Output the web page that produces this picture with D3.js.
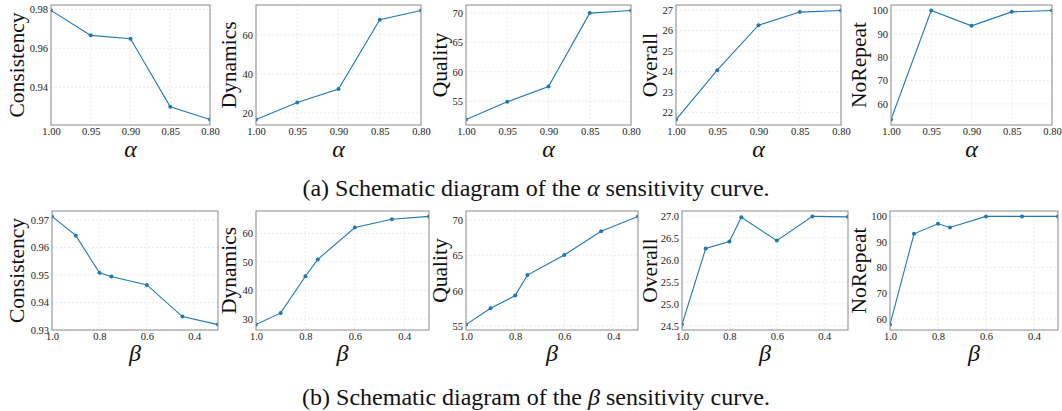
<!DOCTYPE html>
<html>
<head>
<meta charset="utf-8">
<script src="https://cdn.jsdelivr.net/npm/d3@7"></script>
<style>
  body { margin: 0; background: #fff; }
  svg { display: block; }
</style>
</head>
<body>
<svg id="chart" width="1062" height="411"></svg>
<script>
// valeurs
const alphaX = [1.00, 0.95, 0.90, 0.85, 0.80];
const betaX = [1.0, 0.9, 0.8, 0.75, 0.6, 0.45, 0.3];
const metrics = ["Consistency", "Dynamics", "Quality", "Overall", "NoRepeat"];

const alphaConsistency = [0.9795, 0.9667, 0.9650, 0.9300, 0.9234];
const alphaDynamics = [16.6, 25.3, 32.2, 67.7, 72.5];
const alphaQuality = [51.9, 54.9, 57.5, 69.95, 70.4];
const alphaOverall = [21.66, 24.07, 26.26, 26.9, 26.98];
const alphaNoRepeat = [53.3, 100, 93.4, 99.4, 100];

const betaConsistency = [0.9713, 0.9644, 0.9508, 0.9495, 0.9464, 0.9349, 0.932];
const betaDynamics = [28.0, 32.1, 45.0, 50.9, 62.1, 65.0, 66.0];
const betaQuality = [55.2, 57.5, 59.3, 62.2, 65.05, 68.4, 70.5];
const betaOverall = [24.53, 26.26, 26.42, 26.97, 26.44, 26.99, 26.98];
const betaNoRepeat = [57.7, 93.2, 97.1, 95.7, 100, 100, 100];

const alphaXTicks = [1.00, 0.95, 0.90, 0.85, 0.80];
const betaXTicks = [1.0, 0.8, 0.6, 0.4];

const alphaYTicks = [
  [0.94, 0.96, 0.98],
  [20, 40, 60],
  [55, 60, 65, 70],
  [22, 23, 24, 25, 26, 27],
  [60, 70, 80, 90, 100]
];
const betaYTicks = [
  [0.93, 0.94, 0.95, 0.96, 0.97],
  [30, 40, 50, 60],
  [55, 60, 65, 70],
  [24.5, 25.0, 25.5, 26.0, 26.5, 27.0],
  [60, 70, 80, 90, 100]
];
const alphaYFormat = [".2f", "d", "d", "d", "d"];
const betaYFormat = [".2f", "d", "d", ".1f", "d"];

const captionA = "(a) Schematic diagram of the ";
const captionB = "(b) Schematic diagram of the ";
const captionEnd = " sensitivity curve.";

// mise en page (pixels)
const rows = [
  {
    top: 5, bottom: 125,
    lefts: [51, 256, 466, 676, 891],
    rights: [210, 421, 631, 841, 1052],
    labelX: [24, 236, 447, 657, 866],
    xs: alphaX, xTicks: alphaXTicks, xFmt: ".2f",
    series: [alphaConsistency, alphaDynamics, alphaQuality, alphaOverall, alphaNoRepeat],
    yTicks: alphaYTicks, yFmt: alphaYFormat,
    sym: "α", symY: 157, capY: 196, cap: captionA
  },
  {
    top: 211, bottom: 330,
    lefts: [52, 256, 466, 682, 890],
    rights: [218, 429, 638, 848, 1058],
    labelX: [24, 236, 447, 657, 866],
    xs: betaX, xTicks: betaXTicks, xFmt: ".1f",
    series: [betaConsistency, betaDynamics, betaQuality, betaOverall, betaNoRepeat],
    yTicks: betaYTicks, yFmt: betaYFormat,
    sym: "β", symY: 361, capY: 405, cap: captionB
  }
];

const svg = d3.select("#chart");
const serif = "'Liberation Serif', 'Times New Roman', 'DejaVu Serif', serif";
const blue = "#1f77b4";

rows.forEach((row, ri) => {
  row.series.forEach((vals, i) => {
    const left = row.lefts[i], right = row.rights[i];
    const w = right - left, h = row.bottom - row.top;

    const x = d3.scaleLinear().domain(d3.extent(row.xs).reverse()).range([0, w]);
    const [lo, hi] = d3.extent(vals);
    const pad = (hi - lo) * 0.05;
    const y = d3.scaleLinear().domain([lo - pad, hi + pad]).range([h, 0]);

    const g = svg.append("g").attr("transform", `translate(${left},${row.top})`);

    const clipId = `clip-${ri}-${i}`;
    g.append("clipPath").attr("id", clipId)
      .append("rect").attr("width", w).attr("height", h);

    // grille
    g.append("g")
      .selectAll("line").data(row.xTicks).join("line")
      .attr("x1", d => x(d)).attr("x2", d => x(d))
      .attr("y1", 0).attr("y2", h)
      .attr("stroke", "#e6e6e6").attr("stroke-width", 0.8)
      .attr("stroke-dasharray", "2,2");
    g.append("g")
      .selectAll("line").data(row.yTicks[i]).join("line")
      .attr("y1", d => y(d)).attr("y2", d => y(d))
      .attr("x1", 0).attr("x2", w)
      .attr("stroke", "#e6e6e6").attr("stroke-width", 0.8)
      .attr("stroke-dasharray", "2,2");

    // axes
    const xAxis = g.append("g").attr("transform", `translate(0,${h})`)
      .call(d3.axisBottom(x).tickValues(row.xTicks).tickFormat(d3.format(row.xFmt))
        .tickSize(0).tickPadding(3));
    const yAxis = g.append("g")
      .call(d3.axisLeft(y).tickValues(row.yTicks[i]).tickFormat(d3.format(row.yFmt[i]))
        .tickSize(0).tickPadding(3));
    [xAxis, yAxis].forEach(a => {
      a.select(".domain").remove();
      a.selectAll("text").attr("font-family", serif).attr("font-size", 10.5).attr("fill", "#222");
    });

    // courbe
    const line = d3.line().x((d, k) => x(row.xs[k])).y(d => y(d));
    const plot = g.append("g").attr("clip-path", `url(#${clipId})`);
    plot.append("path").datum(vals)
      .attr("d", line).attr("fill", "none")
      .attr("stroke", blue).attr("stroke-width", 1.1);
    plot.selectAll("circle").data(vals).join("circle")
      .attr("cx", (d, k) => x(row.xs[k])).attr("cy", d => y(d))
      .attr("r", 2).attr("fill", blue);

    // cadre
    g.append("rect").attr("width", w).attr("height", h)
      .attr("fill", "none").attr("stroke", "#8a8a8a").attr("stroke-width", 1);

    // titres d'axes
    svg.append("text")
      .attr("transform", `translate(${row.labelX[i]},${(row.top + row.bottom) / 2}) rotate(-90)`)
      .attr("text-anchor", "middle")
      .attr("font-family", serif).attr("font-size", 21.5).attr("fill", "#111")
      .text(metrics[i]);
    svg.append("text")
      .attr("x", left + w / 2).attr("y", row.symY)
      .attr("text-anchor", "middle")
      .attr("font-family", serif).attr("font-style", "italic")
      .attr("font-size", 24).attr("fill", "#111")
      .text(row.sym);
  });

  // légende sous la rangée
  const cap = svg.append("text")
    .attr("x", 536).attr("y", row.capY)
    .attr("text-anchor", "middle")
    .attr("font-family", serif).attr("font-size", 24).attr("fill", "#111");
  cap.append("tspan").text(row.cap);
  cap.append("tspan").attr("font-style", "italic").text(row.sym);
  cap.append("tspan").text(captionEnd);
});
</script>
</body>
</html>
